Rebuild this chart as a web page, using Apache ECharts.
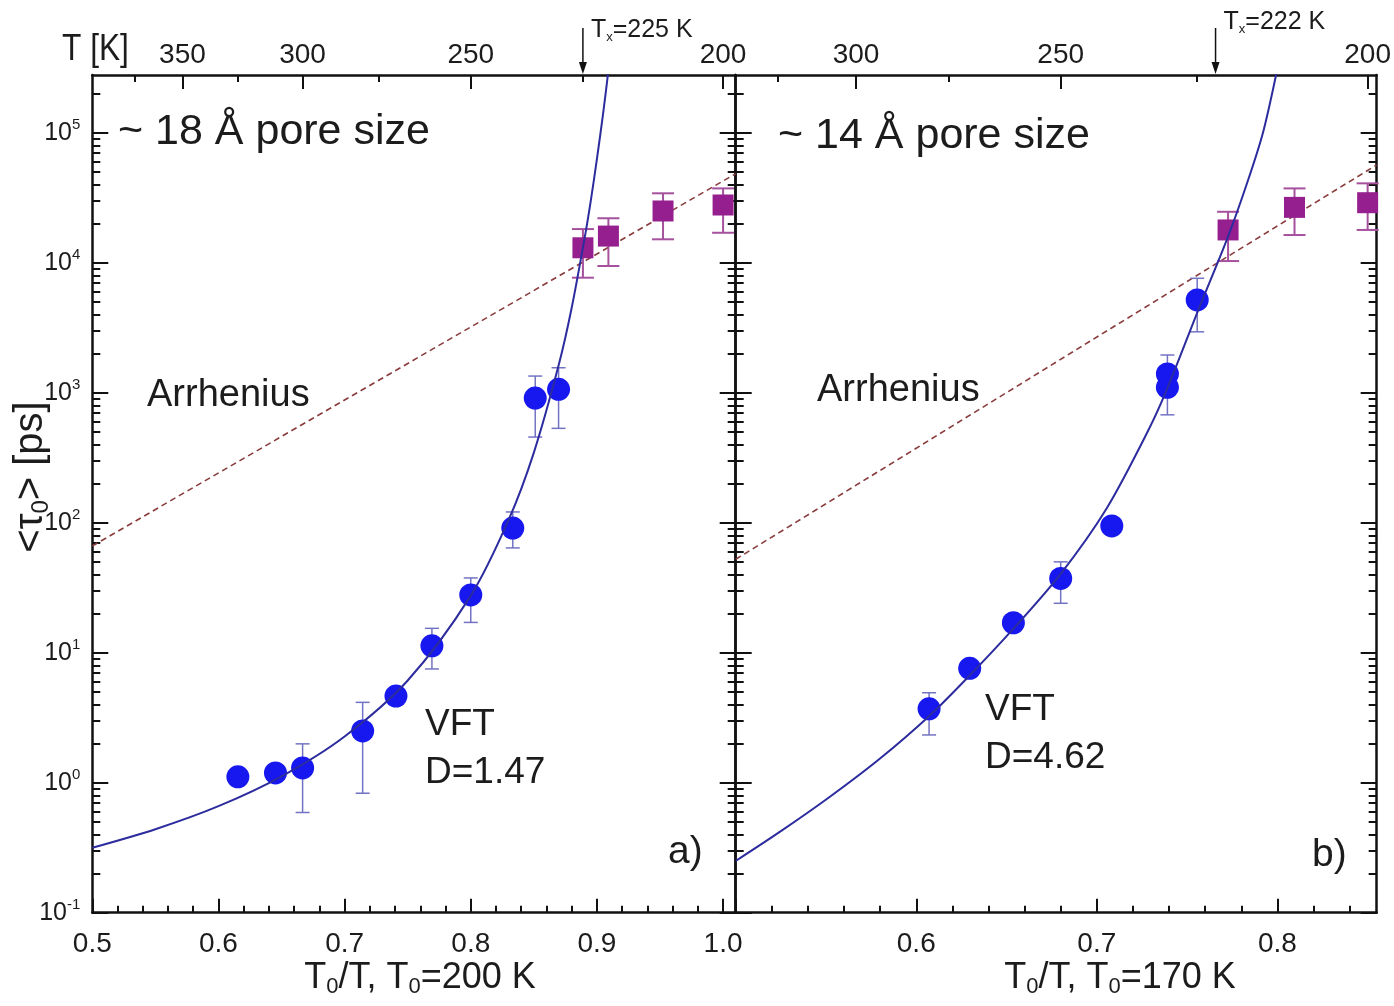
<!DOCTYPE html>
<html><head><meta charset="utf-8">
<script src="https://cdn.jsdelivr.net/npm/echarts@6/dist/echarts.min.js"></script>
<style>html,body{margin:0;padding:0;background:#fff}#c{width:1394px;height:1006px}</style>
</head><body><div id="c"></div>
<script>
// ---------------- data ----------------
const T0_A = 200, T0_B = 170;               // reference temperatures (K)
const xRangeA = [0.5, 1.01];
const xRangeB = [0.5, 0.855];
const tauMin = 0.1, tauMax = 278000;         // y range (ps)

const bottomLabelsA = [0.5, 0.6, 0.7, 0.8, 0.9, 1.0];
const bottomLabelsB = [0.6, 0.7, 0.8];
const topMajorA_K = [350, 300, 250, 200];
const topMinorA_K = [375, 325, 275, 225];
const topMajorB_K = [300, 250, 200];
const topMinorB_K = [325, 275, 225];
const yDecadeExps = [-1, 0, 1, 2, 3, 4, 5];
const yMinorMult = [2, 3, 4, 5, 6, 7, 8, 9];

// panel a) ~18 Å
const circA_x   = [0.6154, 0.6452, 0.6667, 0.7143, 0.7407, 0.7692, 0.8000, 0.8333, 0.8511, 0.8696];
const circA_tau = [1.11, 1.19, 1.30, 2.50, 4.64, 11.3, 27.8, 91, 910, 1062];
const circA_lo  = [null, null, 0.59, 0.83, null, 7.5, 17.1, 64, 456, 532];
const circA_hi  = [null, null, 1.99, 4.15, null, 15.4, 37.6, 121, 1343, 1556];
const sqA_x   = [0.8889, 0.9091, 0.9524, 1.0];
const sqA_tau = [13030, 16030, 25000, 27800];
const sqA_lo  = [7670, 9440, 15140, 17000];
const sqA_hi  = [18150, 21980, 34200, 37300];
const fitA_x   = [0.50, 0.55, 0.60, 0.65, 0.70, 0.75, 0.80, 0.83, 0.85, 0.87, 0.88, 0.89, 0.895, 0.90, 0.905, 0.91];
const fitA_tau = [0.316, 0.439, 0.66, 1.12, 2.27, 6.11, 27.5, 105, 346, 1675, 4500, 15000, 29400, 63000, 142600, 357000];
const arrA_x   = [0.5, 1.01];
const arrA_tau = [66.2, 48400];
const txA_K = 225;

// panel b) ~14 Å
const circB_x   = [0.6071, 0.6296, 0.6538, 0.6800, 0.7083, 0.7391, 0.7391, 0.7556];
const circB_tau = [3.7, 7.59, 17.0, 37.3, 94.5, 1393, 1101, 5170];
const circB_lo  = [2.33, null, null, 24, null, 676, null, 2940];
const circB_hi  = [4.92, null, null, 50, null, 1950, null, 7590];
const sqB_x   = [0.7727, 0.8095, 0.85];
const sqB_tau = [17870, 26650, 28950];
const sqB_lo  = [10300, 16330, 17870];
const sqB_hi  = [24650, 37300, 40800];
const fitB_x   = [0.5, 0.5244, 0.5520, 0.5796, 0.6072, 0.6293, 0.6532, 0.6799, 0.7056, 0.7286, 0.7387, 0.7558, 0.7724, 0.7838, 0.7921, 0.7993, 0.8032];
const fitB_tau = [0.250, 0.418, 0.776, 1.52, 3.26, 6.62, 14.97, 40.3, 130, 516, 1050, 4190, 15500, 43300, 101000, 278000, 513000];
const arrB_x   = [0.5, 0.855];
const arrB_tau = [52.3, 56600];
const txB_K = 222;

// ---------------- styling ----------------
const FN = '"Liberation Sans Narrow", "Arial Narrow", "Liberation Sans", Arial, sans-serif';
const FS = '"Liberation Sans", Arial, sans-serif';
const AX = '#111';
const TXT = '#1c1c1c';
const yMin = Math.log10(tauMin), yMax = Math.log10(tauMax);

const chart = echarts.init(document.getElementById('c'), null, {renderer: 'canvas'});

function stepTicks(a, b, step, skipEvery) {
  const out = [];
  const n = Math.round((b - a) / step);
  for (let i = 0; i <= n; i++) {
    if (skipEvery && i % skipEvery === 0) continue;
    out.push(+(a + i * step).toFixed(4));
  }
  return out;
}
const yMinor = [];
yDecadeExps.forEach(e => yMinorMult.forEach(m => { const v = e + Math.log10(m); if (v <= yMax) yMinor.push(v); }));

const tickLS = {color: AX, width: 2};
function xAxes(gi, range, T0, labels, majors, minors, topMaj, topMin) {
  const base = {gridIndex: gi, type: 'value', min: range[0], max: range[1], splitLine: {show: false}};
  const topMajV = topMaj.map(k => T0 / k);
  return [
    Object.assign({}, base, {position: 'bottom',
      axisLine: {show: true, onZero: false, lineStyle: {color: AX, width: 2.5}},
      axisTick: {show: true, inside: true, length: 14, customValues: majors, lineStyle: tickLS},
      axisLabel: {show: true, customValues: labels, formatter: v => v.toFixed(1), margin: 18,
        fontFamily: FN, fontSize: 28, color: TXT}}),
    Object.assign({}, base, {position: 'bottom',
      axisLine: {show: false, onZero: false},
      axisTick: {show: true, inside: true, length: 7, customValues: minors, lineStyle: tickLS},
      axisLabel: {show: false}}),
    Object.assign({}, base, {position: 'top',
      axisLine: {show: true, onZero: false, lineStyle: {color: AX, width: 2.5}},
      axisTick: {show: true, inside: true, length: 14, customValues: topMajV, lineStyle: tickLS},
      axisLabel: {show: true, customValues: topMajV, formatter: v => String(Math.round(T0 / v)), margin: 6,
        fontFamily: FN, fontSize: 28, color: TXT}}),
    Object.assign({}, base, {position: 'top',
      axisLine: {show: false, onZero: false},
      axisTick: {show: true, inside: true, length: 7, customValues: topMin.map(k => T0 / k), lineStyle: tickLS},
      axisLabel: {show: false}})
  ];
}
function yAxes(gi, showLabels) {
  const base = {gridIndex: gi, type: 'value', min: yMin, max: yMax, splitLine: {show: false}};
  const lbl = showLabels ? {show: true, customValues: yDecadeExps, margin: 12,
      formatter: v => '{b|10}{s|' + Math.round(v) + '}',
      rich: {b: {fontFamily: FS, fontSize: 25, lineHeight: 30, color: TXT},
             s: {fontFamily: FS, fontSize: 15, lineHeight: 16, verticalAlign: 'top', color: TXT}}}
    : {show: false};
  return [
    Object.assign({}, base, {position: 'left',
      axisLine: {show: true, onZero: false, lineStyle: {color: AX, width: 2.5}},
      axisTick: {show: true, inside: true, length: 16, customValues: yDecadeExps, lineStyle: tickLS},
      axisLabel: lbl}),
    Object.assign({}, base, {position: 'left', axisLine: {show: false, onZero: false},
      axisTick: {show: true, inside: true, length: 8, customValues: yMinor, lineStyle: tickLS}, axisLabel: {show: false}}),
    Object.assign({}, base, {position: 'right',
      axisLine: {show: true, onZero: false, lineStyle: {color: AX, width: 2.5}},
      axisTick: {show: true, inside: true, length: 16, customValues: yDecadeExps, lineStyle: tickLS},
      axisLabel: {show: false}}),
    Object.assign({}, base, {position: 'right', axisLine: {show: false, onZero: false},
      axisTick: {show: true, inside: true, length: 8, customValues: yMinor, lineStyle: tickLS}, axisLabel: {show: false}})
  ];
}

function pts(xs, taus) { return xs.map((x, i) => [x, Math.log10(taus[i])]); }
function errData(xs, lo, hi) {
  const d = [];
  xs.forEach((x, i) => { if (lo[i] != null) d.push([x, Math.log10(lo[i]), Math.log10(hi[i])]); });
  return d;
}
function errSeries(gi, data, color, width, capW) {
  return {type: 'custom', xAxisIndex: gi * 4, yAxisIndex: gi * 4, data: data, z: 3, silent: true,
    encode: {x: 0, y: [1, 2]},
    renderItem: function (params, api) {
      const x = api.value(0);
      const p1 = api.coord([x, api.value(1)]);
      const p2 = api.coord([x, api.value(2)]);
      const h = capW / 2, st = {stroke: color, lineWidth: width};
      return {type: 'group', children: [
        {type: 'line', shape: {x1: p1[0], y1: p1[1], x2: p2[0], y2: p2[1]}, style: st},
        {type: 'line', shape: {x1: p1[0] - h, y1: p1[1], x2: p1[0] + h, y2: p1[1]}, style: st},
        {type: 'line', shape: {x1: p2[0] - h, y1: p2[1], x2: p2[0] + h, y2: p2[1]}, style: st}
      ]};
    }};
}
function arrowSeries(gi, T0, TxK, textDy) {
  return {type: 'custom', xAxisIndex: gi * 4, yAxisIndex: gi * 4, data: [[T0 / TxK, yMax]], z: 6, silent: true,
    clip: false,
    renderItem: function (params, api) {
      const p = api.coord([api.value(0), api.value(1)]);
      const x = p[0], y = p[1];
      return {type: 'group', children: [
        {type: 'line', shape: {x1: x, y1: y - 47, x2: x, y2: y - 10}, style: {stroke: AX, lineWidth: 1.5}},
        {type: 'polygon', shape: {points: [[x - 4, y - 13], [x + 4, y - 13], [x, y - 1]]}, style: {fill: AX}},
        {type: 'text', x: x + 8, y: y + textDy, style: {
          text: '{t|T}{s|x}{t|=' + TxK + ' K}', align: 'left', verticalAlign: 'middle',
          rich: {t: {fontFamily: FN, fontSize: 25, lineHeight: 28, fill: TXT},
                 s: {fontFamily: FN, fontSize: 13, lineHeight: 12, verticalAlign: 'bottom', fill: TXT}}}}
      ]};
    }};
}
function panelSeries(gi, d) {
  const xi = gi * 4;
  return [
    {type: 'line', xAxisIndex: xi, yAxisIndex: xi, data: pts(d.arrX, d.arrTau), showSymbol: false, silent: true,
      lineStyle: {color: '#8a3c3c', width: 1.6, type: [6, 4]}, z: 2},
    errSeries(gi, errData(d.cx, d.clo, d.chi), '#7373c4', 1.5, 14),
    errSeries(gi, errData(d.sx, d.slo, d.shi), '#a5519e', 2, 22),
    {type: 'scatter', xAxisIndex: xi, yAxisIndex: xi, data: pts(d.cx, d.ctau), symbol: 'circle', symbolSize: 23,
      itemStyle: {color: '#1717ef', opacity: 1}, z: 4, silent: true},
    {type: 'scatter', xAxisIndex: xi, yAxisIndex: xi, data: pts(d.sx, d.stau), symbol: 'rect', symbolSize: 21,
      itemStyle: {color: '#951f8e', opacity: 1}, z: 4, silent: true},
    {type: 'line', xAxisIndex: xi, yAxisIndex: xi, data: pts(d.fx, d.ftau), showSymbol: false, smooth: 0.3,
      silent: true, lineStyle: {color: '#2c2c9e', width: 2}, z: 5, clip: true},
    arrowSeries(gi, d.T0, d.tx, d.txDy)
  ];
}

const grids = [
  {left: 92.3, top: 75, width: 643.4, height: 837.7},
  {left: 735.7, top: 75, width: 642.6, height: 837.7}
];

const majorsA = stepTicks(0.5, 1.0, 0.1);
const minorsA = stepTicks(0.5, 1.0, 0.02, 5);
const majorsB = stepTicks(0.5, 0.8, 0.1);
const minorsB = stepTicks(0.5, 0.84, 0.02, 5);

const xTitleRich = {
  t: {fontFamily: FN, fontSize: 36, lineHeight: 40, fill: TXT},
  s: {fontFamily: FN, fontSize: 22, lineHeight: 16, verticalAlign: 'bottom', fill: TXT}
};
const yTitleRich = {
  t: {fontFamily: FN, fontSize: 40, lineHeight: 44, fill: TXT},
  s: {fontFamily: FN, fontSize: 24, lineHeight: 18, verticalAlign: 'bottom', fill: TXT}
};
const ann = (x, y, text, size) => ({type: 'text', x: x, y: y, silent: true,
  style: {text: text, fontFamily: FS, fontSize: size, fill: TXT, align: 'left', verticalAlign: 'middle'}});

const option = {
  animation: false,
  backgroundColor: '#fff',
  grid: grids,
  xAxis: [].concat(
    xAxes(0, xRangeA, T0_A, bottomLabelsA, majorsA, minorsA, topMajorA_K, topMinorA_K),
    xAxes(1, xRangeB, T0_B, bottomLabelsB, majorsB, minorsB, topMajorB_K, topMinorB_K)),
  yAxis: [].concat(yAxes(0, true), yAxes(1, false)),
  series: [].concat(
    panelSeries(0, {arrX: arrA_x, arrTau: arrA_tau, cx: circA_x, ctau: circA_tau, clo: circA_lo, chi: circA_hi,
      sx: sqA_x, stau: sqA_tau, slo: sqA_lo, shi: sqA_hi, fx: fitA_x, ftau: fitA_tau, T0: T0_A, tx: txA_K, txDy: -45}),
    panelSeries(1, {arrX: arrB_x, arrTau: arrB_tau, cx: circB_x, ctau: circB_tau, clo: circB_lo, chi: circB_hi,
      sx: sqB_x, stau: sqB_tau, slo: sqB_lo, shi: sqB_hi, fx: fitB_x, ftau: fitB_tau, T0: T0_B, tx: txB_K, txDy: -53})
  ),
  graphic: [
    {type: 'text', x: 62, y: 50, scaleX: 0.88, silent: true, style: {text: 'T [K]', fontFamily: FN, fontSize: 36, fill: TXT, align: 'left', verticalAlign: 'middle'}},
    {type: 'text', x: 31, y: 477, rotation: Math.PI / 2, silent: true,
      style: {text: '{t|<τ}{s|0}{t|> [ps]}', align: 'center', verticalAlign: 'middle', rich: yTitleRich}},
    {type: 'text', x: 420, y: 978, silent: true,
      style: {text: '{t|T}{s|0}{t|/T, T}{s|0}{t|=200 K}', align: 'center', verticalAlign: 'middle', rich: xTitleRich}},
    {type: 'text', x: 1120, y: 978, silent: true,
      style: {text: '{t|T}{s|0}{t|/T, T}{s|0}{t|=170 K}', align: 'center', verticalAlign: 'middle', rich: xTitleRich}},
    ann(118, 132, '~ 18 Å pore size', 43),
    ann(147, 396, 'Arrhenius', 38),
    ann(425, 725, 'VFT', 37),
    ann(425, 773, 'D=1.47', 37),
    ann(668, 852, 'a)', 39),
    ann(778, 136, '~ 14 Å pore size', 43),
    ann(817, 391, 'Arrhenius', 38),
    ann(985, 710, 'VFT', 37),
    ann(985, 758, 'D=4.62', 37),
    ann(1312, 855, 'b)', 39)
  ]
};
chart.setOption(option);
</script>
</body></html>
